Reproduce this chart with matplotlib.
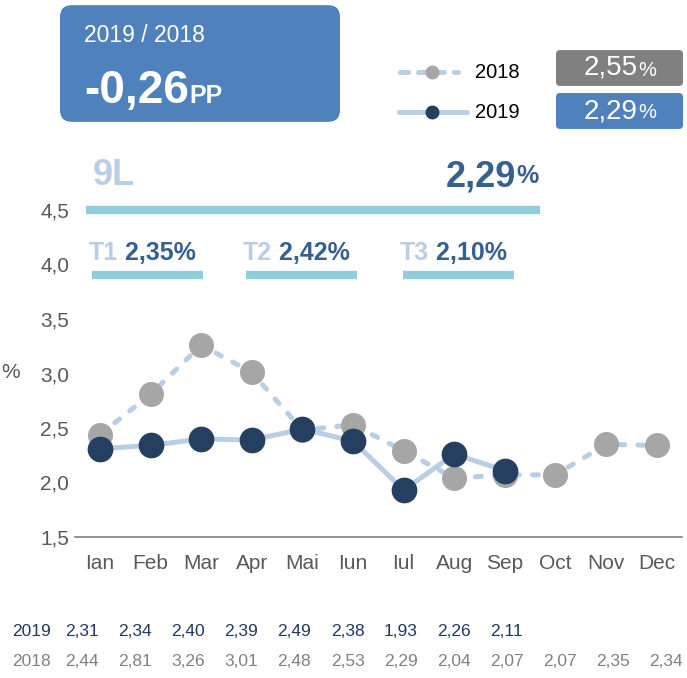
import matplotlib
matplotlib.use("Agg")
import matplotlib.pyplot as plt
import numpy as np
from matplotlib.patches import FancyBboxPatch
from matplotlib.lines import Line2D

plt.rcParams['font.family'] = ['Liberation Sans', 'DejaVu Sans']

months = ["Ian", "Feb", "Mar", "Apr", "Mai", "Iun", "Iul", "Aug", "Sep", "Oct", "Nov", "Dec"]
v2018 = [2.44, 2.81, 3.26, 3.01, 2.48, 2.53, 2.29, 2.04, 2.07, 2.07, 2.35, 2.34]
v2019 = [2.31, 2.34, 2.40, 2.39, 2.49, 2.38, 1.93, 2.26, 2.11]
yticks = [1.5, 2.0, 2.5, 3.0, 3.5, 4.0, 4.5]
ytick_labels = ["1,5", "2,0", "2,5", "3,0", "3,5", "4,0", "4,5"]
avg2018 = "2,55"
avg2019 = "2,29"
diff_pp = "-0,26"
ytd_label = "9L"
ytd_value = "2,29"
quarters = ["T1", "T2", "T3"]
quarter_values = ["2,35%", "2,42%", "2,10%"]
quarter_spans = [(-0.16, 2.04), (2.89, 5.08), (5.99, 8.18)]
ytd_span = (-0.28, 8.70)

def fmt(v):
    return f"{v:.2f}".replace(".", ",")

LIGHT = "#B9CDE5"
NAVY = "#243F60"
GRAY = "#A6A6A6"
TEAL = "#92CDDC"
DARKBLUE = "#366092"
BOXBLUE = "#4F81BD"
TXT = "#595959"

W, H = 687, 678
fig = plt.figure(figsize=(W / 100, H / 100), dpi=100)
ax = fig.add_axes([74.7 / W, (H - 537) / H, (682 - 74.7) / W, (537 - 210) / H])

x = np.arange(len(months))
ax.plot(x, v2018, color=LIGHT, lw=3.6, ls=(0, (1.2, 2.6)), dash_capstyle="round", zorder=2)
ax.plot(x, v2018, ls="none", marker="o", ms=17, color=GRAY, zorder=3)
ax.plot(x[:len(v2019)], v2019, color=LIGHT, lw=3.6, zorder=4)
ax.plot(x[:len(v2019)], v2019, ls="none", marker="o", ms=17.5, color=NAVY, zorder=5)

ax.set_xlim(-0.5, 11.5)
ax.set_ylim(1.5, 4.5)
ax.set_yticks(yticks)
ax.set_yticklabels(ytick_labels)
ax.set_xticks(x)
ax.set_xticklabels(months)
ax.tick_params(axis="both", length=0, labelsize=15, labelcolor=TXT)
ax.tick_params(axis="x", pad=12)
ax.tick_params(axis="y", pad=4)
for s in ["top", "right", "left"]:
    ax.spines[s].set_visible(False)
ax.spines["bottom"].set_color("#808080")
ax.spines["bottom"].set_linewidth(1.2)
ax.patch.set_alpha(0)

fig.text(1 / W, (H - 373) / H, "%", fontsize=15, color=TXT, va="center", ha="left")

# YTD bar and quarter bars
ax.plot(ytd_span, [4.5, 4.5], color=TEAL, lw=6, solid_capstyle="butt", clip_on=False)
for (a, b) in quarter_spans:
    ax.plot([a, b], [3.90, 3.90], color=TEAL, lw=6, solid_capstyle="butt", clip_on=False)

ax.text(ytd_span[0] + 0.13, 4.82, ytd_label, fontsize=26, fontweight="bold", color=LIGHT,
        va="center", ha="left", clip_on=False)
t_pct = ax.text(ytd_span[1] - 0.03, 4.81, "%", fontsize=18, fontweight="bold", color=DARKBLUE,
                va="center", ha="right", clip_on=False)
ax.annotate(ytd_value, xy=(0, 0.45), xycoords=t_pct, ha="right", va="center",
            fontsize=26, fontweight="bold", color=DARKBLUE)

for q, qv, (a, b) in zip(quarters, quarter_values, quarter_spans):
    tq = ax.text(a - 0.06, 4.11, q, fontsize=18, fontweight="bold", color=LIGHT,
                 va="center", ha="left", clip_on=False)
    ax.annotate(" " + qv, xy=(1, 0.5), xycoords=tq, ha="left", va="center",
                fontsize=18, fontweight="bold", color=DARKBLUE)

# Top box
fig.patches.append(FancyBboxPatch((72 / W, (H - 110) / H), (328 - 72) / W, (110 - 17) / H,
                                  boxstyle="round,pad=%f,rounding_size=%f" % (12 / W, 12 / W),
                                  transform=fig.transFigure,
                                  facecolor=BOXBLUE, edgecolor="none"))
fig.text(84 / W, (H - 35) / H, "2019 / 2018", fontsize=16.5, color="white", va="center", ha="left")
tdiff = fig.text(84 / W, (H - 103) / H, diff_pp, fontsize=33, fontweight="bold", color="white",
                 va="baseline", ha="left")
fig.text(189 / W, (H - 103) / H, "PP", fontsize=18, fontweight="bold", color="white",
         va="baseline", ha="left")

# Legend
fig.lines.append(Line2D([400 / W, 458 / W], [(H - 72) / H] * 2, transform=fig.transFigure,
                        color=LIGHT, lw=3.6, ls=(0, (1.6, 2.0)), dash_capstyle="round"))
fig.lines.append(Line2D([432 / W], [(H - 72) / H], transform=fig.transFigure, marker="o",
                        ms=9, color=GRAY, ls="none"))
fig.lines.append(Line2D([399 / W, 467 / W], [(H - 112) / H] * 2, transform=fig.transFigure,
                        color=LIGHT, lw=3.6, solid_capstyle="round"))
fig.lines.append(Line2D([432 / W], [(H - 112) / H], transform=fig.transFigure, marker="o",
                        ms=9, color=NAVY, ls="none"))
fig.text(475 / W, (H - 72) / H, "2018", fontsize=14.5, color="black", va="center", ha="left")
fig.text(475 / W, (H - 112) / H, "2019", fontsize=14.5, color="black", va="center", ha="left")

for (y0, y1, col, val) in [(50, 86, "#808080", avg2018), (93, 129, BOXBLUE, avg2019)]:
    p = FancyBboxPatch((560 / W, (H - y1 + 4) / H), (679 - 560) / W, (y1 - y0 - 8) / H,
                       boxstyle="round,pad=%f,rounding_size=%f" % (4 / W, 4 / W),
                       transform=fig.transFigure, facecolor=col, edgecolor="none")
    fig.patches.append(p)
    yc = (H - (y0 + y1) / 2) / H
    fig.text(638 / W, yc, val, fontsize=20, color="white", va="center", ha="right")
    fig.text(638 / W, yc - 2 / H, "%", fontsize=14.5, color="white", va="center", ha="left")

# Table
fig.text(12 / W, (H - 632) / H, "2019", fontsize=12.5, color="#1F3864", va="center", ha="left")
fig.text(12 / W, (H - 661) / H, "2018", fontsize=12.5, color="#808080", va="center", ha="left")
cols = (82 + 53.1 * np.arange(len(months))) / W
for i, v in enumerate(v2019):
    fig.text(cols[i], (H - 632) / H, fmt(v), fontsize=12.5, color="#1F3864", va="center", ha="center")
for i, v in enumerate(v2018):
    fig.text(cols[i], (H - 661) / H, fmt(v), fontsize=12.5, color="#808080", va="center", ha="center")

fig.savefig("out.png", dpi=100)
